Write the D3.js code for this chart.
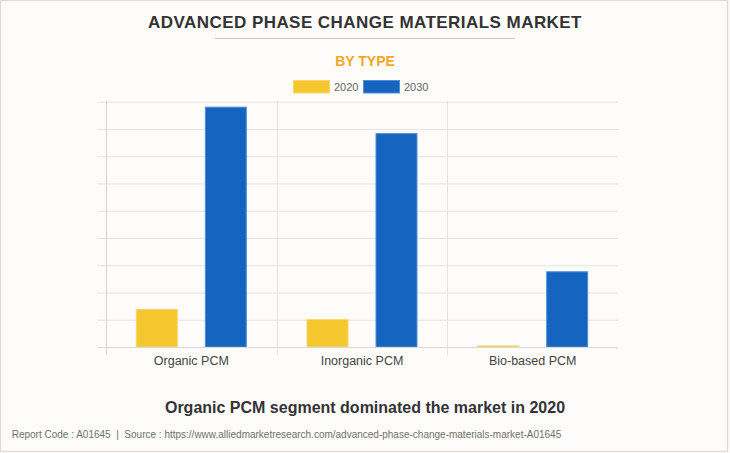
<!DOCTYPE html>
<html>
<head>
<meta charset="utf-8">
<script src="https://cdn.jsdelivr.net/npm/d3@7"></script>
<style>
  html, body { margin: 0; padding: 0; background: #fdfcfa; }
  svg { display: block; font-family: "Liberation Sans", Arial, sans-serif; }
</style>
</head>
<body>
<svg id="chart" width="730" height="453"></svg>
<script>
const categories = ["Organic PCM", "Inorganic PCM", "Bio-based PCM"];
const years = ["2020", "2030"];
const values2020 = [1.38, 1.01, 0.04];
const values2030 = [8.80, 7.83, 2.76];
const yTicks = [0, 1, 2, 3, 4, 5, 6, 7, 8, 9];
const colors = { "2020": "#f4c72f", "2030": "#1565c0" };
const strokes = { "2020": "#f8d76a", "2030": "#4f8fd8" };

const svg = d3.select("#chart");
const W = 730, H = 453;

svg.append("rect").attr("x", 0.5).attr("y", 0.5).attr("width", W - 3).attr("height", H - 2)
  .attr("fill", "#fdfcfa").attr("stroke", "#dddddd").attr("stroke-width", 1.5);

// Title
svg.append("text").attr("x", 365).attr("y", 27.5).attr("text-anchor", "middle")
  .attr("font-size", 17).attr("font-weight", "bold").attr("letter-spacing", 0.45)
  .attr("fill", "#333333").text("ADVANCED PHASE CHANGE MATERIALS MARKET");
svg.append("line").attr("x1", 215).attr("x2", 515).attr("y1", 38.5).attr("y2", 38.5)
  .attr("stroke", "#c8c8c8").attr("stroke-width", 1);
svg.append("text").attr("x", 365).attr("y", 66).attr("text-anchor", "middle")
  .attr("font-size", 14).attr("font-weight", "bold").attr("fill", "#f5a623").text("BY TYPE");

// Legend
const legendItems = [{ key: "2020", x: 293.5 }, { key: "2030", x: 363.5 }];
const lg = svg.append("g");
legendItems.forEach(d => {
  lg.append("rect").attr("x", d.x).attr("y", 80.5).attr("width", 36).attr("height", 12.5)
    .attr("fill", colors[d.key]).attr("stroke", strokes[d.key]).attr("stroke-width", 1);
  lg.append("text").attr("x", d.x + 40.5).attr("y", 91).attr("font-size", 11)
    .attr("fill", "#666666").text(d.key);
});

// Scales
const plotLeft = 106, plotRight = 618, plotTop = 101.7, plotBottom = 347;
const x0 = d3.scaleBand().domain(categories).range([plotLeft, plotRight]).paddingInner(0).paddingOuter(0);
const x1 = d3.scaleBand().domain(years).range([0, x0.bandwidth()]).paddingInner(0.406).paddingOuter(0.44);
const y = d3.scaleLinear().domain([0, 9]).range([plotBottom, plotTop]);

// Horizontal gridlines (with short left ticks)
const gy = svg.append("g").attr("transform", `translate(${plotLeft},0)`)
  .call(d3.axisLeft(y).tickValues(yTicks).tickSize(-(plotRight - plotLeft)).tickFormat(""));
gy.select(".domain").remove();
gy.selectAll(".tick line").attr("stroke", "#e4e4e4").attr("x2", plotRight - plotLeft).attr("x1", -9);

// Vertical category lines
const sepXs = [plotLeft, x0(categories[1]), x0(categories[2])];
svg.append("g").selectAll("line").data(sepXs).join("line")
  .attr("x1", d => Math.round(d) + 0.5).attr("x2", d => Math.round(d) + 0.5)
  .attr("y1", plotTop - 1).attr("y2", 355)
  .attr("stroke", (d, i) => i === 0 ? "#d4d4d4" : "#e4e4e4").attr("stroke-width", 1);

// Bars
const series = years.map(k => ({ key: k, vals: k === "2020" ? values2020 : values2030 }));
series.forEach(s => {
  svg.append("g").selectAll("rect").data(categories).join("rect")
    .attr("x", c => x0(c) + x1(s.key))
    .attr("width", x1.bandwidth())
    .attr("y", (c, i) => y(s.vals[i]))
    .attr("height", (c, i) => y(0) - y(s.vals[i]))
    .attr("fill", colors[s.key]).attr("stroke", strokes[s.key]).attr("stroke-width", 1);
});

// Baseline
svg.append("line").attr("x1", plotLeft - 9).attr("x2", plotRight).attr("y1", y(0) + 0.5).attr("y2", y(0) + 0.5)
  .attr("stroke", "#d8d8d8");

// Category labels
const gx = svg.append("g").attr("transform", `translate(0,${plotBottom})`)
  .call(d3.axisBottom(x0).tickSize(0).tickPadding(0));
gx.select(".domain").remove();
gx.selectAll(".tick text").attr("font-size", 12.5).attr("fill", "#444444")
  .attr("font-family", "'Liberation Sans', Arial, sans-serif").attr("dy", 0).attr("y", 18);

// Footer
svg.append("text").attr("x", 365).attr("y", 412.7).attr("text-anchor", "middle")
  .attr("font-size", 16).attr("font-weight", "bold").attr("fill", "#333333")
  .text("Organic PCM segment dominated the market in 2020");
svg.append("text").attr("x", 11.7).attr("y", 437.7).attr("font-size", 10).attr("fill", "#707070")
  .text("Report Code : A01645  |  Source : https://www.alliedmarketresearch.com/advanced-phase-change-materials-market-A01645")
  .attr("xml:space", "preserve").style("white-space", "pre");
</script>
</body>
</html>
